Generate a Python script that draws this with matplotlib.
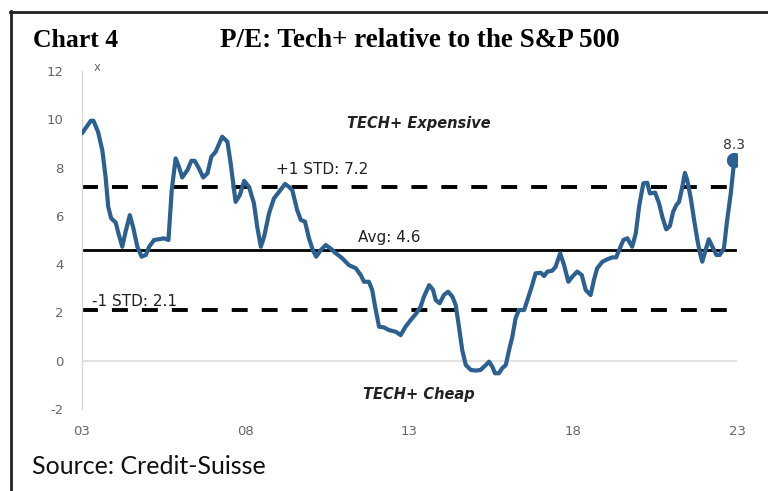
import matplotlib
matplotlib.use("Agg")
import matplotlib.pyplot as plt
from matplotlib.lines import Line2D

plt.rcParams["axes.unicode_minus"] = False

# ---- data ----
years = [2003.00, 2003.27, 2003.35, 2003.49, 2003.62, 2003.72, 2003.80, 2003.89, 2004.03, 2004.10,
         2004.23, 2004.33, 2004.46, 2004.57, 2004.69, 2004.82, 2004.95, 2005.05, 2005.20, 2005.35,
         2005.50, 2005.64, 2005.74, 2005.86, 2005.96, 2006.06, 2006.22, 2006.34, 2006.44, 2006.57,
         2006.70, 2006.83, 2006.95, 2007.08, 2007.28, 2007.44, 2007.54, 2007.69, 2007.82, 2007.95,
         2008.10, 2008.25, 2008.35, 2008.46, 2008.56, 2008.71, 2008.86, 2009.02, 2009.20, 2009.32,
         2009.42, 2009.57, 2009.68, 2009.81, 2009.93, 2010.05, 2010.15, 2010.29, 2010.44, 2010.59,
         2010.75, 2010.95, 2011.15, 2011.36, 2011.51, 2011.61, 2011.76, 2011.86, 2011.97, 2012.07,
         2012.22, 2012.37, 2012.58, 2012.73, 2012.88, 2013.04, 2013.19, 2013.34, 2013.44, 2013.60,
         2013.72, 2013.80, 2013.92, 2014.05, 2014.18, 2014.31, 2014.41, 2014.51, 2014.61, 2014.72,
         2014.87, 2015.02, 2015.17, 2015.33, 2015.43, 2015.53, 2015.61, 2015.73, 2015.83, 2015.94,
         2016.04, 2016.14, 2016.24, 2016.34, 2016.50, 2016.60, 2016.73, 2016.85, 2017.01, 2017.11,
         2017.21, 2017.36, 2017.46, 2017.60, 2017.72, 2017.85, 2017.97, 2018.12, 2018.26, 2018.38,
         2018.53, 2018.63, 2018.73, 2018.89, 2019.04, 2019.19, 2019.31, 2019.40, 2019.53, 2019.65,
         2019.80, 2019.91, 2020.01, 2020.14, 2020.26, 2020.34, 2020.50, 2020.62, 2020.72, 2020.84,
         2020.95, 2021.05, 2021.15, 2021.23, 2021.33, 2021.41, 2021.48, 2021.59, 2021.69, 2021.79,
         2021.86, 2021.94, 2022.04, 2022.14, 2022.25, 2022.37, 2022.47, 2022.60, 2022.70, 2022.81,
         2022.89, 2022.91]
pe_rel = [9.42, 9.94, 9.94, 9.48, 8.72, 7.62, 6.38, 5.90, 5.72, 5.34,
          4.72, 5.34, 6.03, 5.48, 4.72, 4.31, 4.38, 4.72, 5.00, 5.03,
          5.07, 5.00, 7.07, 8.38, 8.03, 7.59, 7.90, 8.28, 8.28, 7.97,
          7.59, 7.76, 8.45, 8.65, 9.28, 9.07, 8.17, 6.58, 6.86, 7.45,
          7.20, 6.52, 5.55, 4.72, 5.13, 6.10, 6.72, 7.00, 7.32, 7.20,
          7.07, 6.24, 5.83, 5.76, 5.07, 4.58, 4.31, 4.58, 4.79, 4.65,
          4.45, 4.24, 3.96, 3.83, 3.55, 3.27, 3.27, 2.93, 2.10, 1.41,
          1.38, 1.27, 1.20, 1.06, 1.41, 1.69, 1.93, 2.24, 2.65, 3.13,
          2.93, 2.51, 2.38, 2.72, 2.86, 2.65, 2.31, 1.41, 0.44, -0.18,
          -0.38, -0.41, -0.38, -0.18, -0.04, -0.25, -0.52, -0.52, -0.31, -0.18,
          0.44, 0.99, 1.76, 2.10, 2.10, 2.51, 3.06, 3.62, 3.64, 3.51,
          3.69, 3.73, 3.89, 4.45, 3.96, 3.27, 3.48, 3.69, 3.55, 2.93,
          2.72, 3.34, 3.83, 4.10, 4.20, 4.28, 4.28, 4.58, 5.00, 5.07,
          4.72, 5.28, 6.38, 7.35, 7.37, 6.93, 6.96, 6.52, 5.96, 5.44,
          5.58, 6.17, 6.45, 6.58, 7.20, 7.78, 7.48, 6.72, 5.83, 5.00,
          4.51, 4.10, 4.58, 5.03, 4.72, 4.38, 4.38, 4.65, 5.83, 6.93,
          7.97, 8.30]
avg_val = 4.6
plus_std = 7.2
minus_std = 2.1
x_ticks = [2003, 2008, 2013, 2018, 2023]
x_tick_labels = ["03", "08", "13", "18", "23"]
y_ticks = [-2, 0, 2, 4, 6, 8, 10, 12]

W, H = 768, 491
fig = plt.figure(figsize=(W / 100, H / 100), dpi=100)
fig.patch.set_facecolor("white")

def fx(px):
    return px / W

def fy(py):
    return 1 - py / H

ax = fig.add_axes([fx(82), fy(409), (737 - 82) / W, (409 - 71) / H])
ax.set_xlim(2003, 2023)
ax.set_ylim(-2, 12)
for s in ["top", "right", "bottom"]:
    ax.spines[s].set_visible(False)
ax.spines["left"].set_color("#d9d9d9")
ax.spines["left"].set_linewidth(1.0)
ax.tick_params(length=0, colors="#666666", labelsize=9.5)
ax.tick_params(axis="x", pad=11.5)
ax.tick_params(axis="y", pad=13.5)
ax.set_xticks(x_ticks)
ax.set_xticklabels(x_tick_labels)
ax.set_yticks(y_ticks)
for lab in ax.get_xticklabels() + ax.get_yticklabels():
    lab.set_fontfamily("DejaVu Sans")

ax.axhline(0, color="#dddddd", lw=1.2, zorder=1)
ax.axhline(avg_val, color="black", lw=2.0, zorder=2)
ax.hlines([plus_std, minus_std], 2003, 2022.85, colors="black", lw=2.8,
          linestyles=(0, (4.1, 3.6)), zorder=2)

ax.plot(years, pe_rel, color="#2b6090", lw=3.0, solid_joinstyle="round",
        solid_capstyle="round", zorder=3)
ax.plot(years[-1], pe_rel[-1], "o", color="#2b6090", ms=10, zorder=4)
ax.annotate(f"{pe_rel[-1]:.1f}", (years[-1], pe_rel[-1]), xytext=(0, 8),
            textcoords="offset points", ha="center", va="baseline", fontsize=10,
            color="#333333", family="DejaVu Sans")

txt = dict(family="DejaVu Sans", color="#222222")
ax.text(2010.33, 7.73, f"+1 STD: {plus_std}", fontsize=11, ha="center",
        va="baseline", **txt)
ax.text(2012.38, 4.92, f"Avg: {avg_val}", fontsize=11, ha="center",
        va="baseline", **txt)
ax.text(2004.59, 2.26, f"-1 STD: {minus_std}", fontsize=11, ha="center",
        va="baseline", **txt)
ax.text(2013.29, 9.84, "TECH+ Expensive", fontsize=10.5, ha="center", va="center",
        style="italic", weight="bold", **txt)
ax.text(2013.29, -1.42, "TECH+ Cheap", fontsize=10.5, ha="center", va="center",
        style="italic", weight="bold", **txt)
ax.text(2003.45, 12.0, "x", fontsize=8.5, ha="center", va="baseline", color="#666666",
        family="DejaVu Sans")

# frame and headings
fig.add_artist(Line2D([fx(10), fx(768)], [fy(11.5), fy(11.5)], color="#222222", lw=2))
fig.add_artist(Line2D([fx(11), fx(11)], [fy(11), fy(491)], color="#222222", lw=2))
fig.text(fx(33), fy(47), "Chart 4", family="Liberation Serif", weight="bold",
         fontsize=18.5, ha="left", va="baseline")
fig.text(fx(220), fy(47), "P/E: Tech+ relative to the S&P 500", family="Liberation Serif",
         weight="bold", fontsize=19.5, ha="left", va="baseline")
fig.text(fx(32), fy(474), "Source: Credit-Suisse", family="Lato", fontsize=18,
         ha="left", va="baseline", color="#111111")

fig.savefig("out.png", dpi=100)
